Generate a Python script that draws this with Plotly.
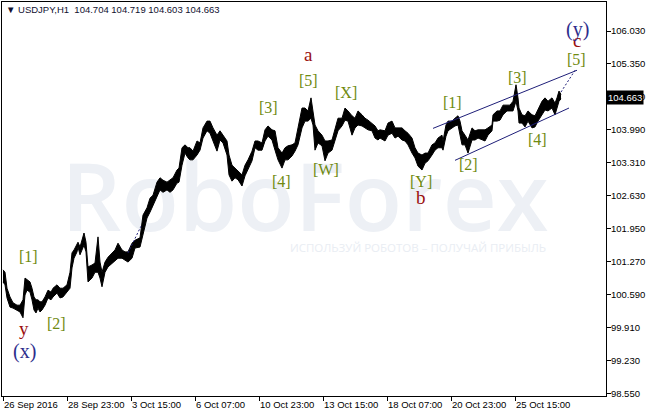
import plotly.graph_objects as go

# ---- data (bar index from first visible bar, prices) ----
bar_idx = [0,2,4,7,10,14,17,20,22,24,27,29,31,33,35,37,39,42,45,48,50,54,57,60,64,67,69,71,74,75,
           77,80,81,83,85,89,92,95,97,99,102,105,109,112,115,119,122,125,129,132,137,140,144,147,150,
           154,157,160,164,167,170,174,176,179,182,185,187,190,194,197,200,204,207,210,214,217,220,224,
           226,229,232,235,239,242,245,249,252,255,259,262,265,269,272,275,279,282,285,289,292,295,299,
           302,305,308,310,312,315,319,322,325,329,332,335,339,342,345,349,352,355,359,362,365,369,372,
           375,377,382,385,389,392,395,399,402,405,409,412,415,419,422,425,429,432,435,439,440,443,445,
           449,452,455,457,459,462,465,469,472,475,479,482,485,489,490,494,497,500,504,507,510,513,515,
           516,519,522,525,529,532,535,539,542,545,549,552,554,556,558]
high = [101.10,101.05,100.72,100.54,100.42,100.37,100.37,100.48,100.93,100.89,100.85,100.72,100.54,100.48,100.48,
        100.44,100.44,100.54,100.68,100.64,100.72,100.79,100.72,100.72,100.79,101.05,101.45,101.51,101.65,101.67,
        101.57,101.82,101.86,101.67,101.16,101.20,101.24,101.78,101.26,101.05,101.26,101.36,101.45,101.51,101.65,
        101.51,101.47,101.47,101.65,101.71,101.76,102.23,102.38,102.58,102.64,102.91,103.00,102.95,102.91,102.95,
        103.00,103.16,103.20,103.62,103.68,103.62,103.62,103.55,103.76,103.72,104.03,104.17,104.17,104.03,103.88,
        103.97,103.88,103.76,103.47,103.26,103.20,103.14,103.06,103.26,103.37,103.55,103.76,103.76,103.72,103.99,
        104.07,103.99,103.97,103.62,103.51,103.62,103.66,103.68,103.72,104.03,104.44,104.44,104.38,104.65,104.38,
        104.09,103.97,103.88,103.76,103.76,103.78,104.03,104.23,104.23,104.44,104.38,104.28,104.23,104.38,104.30,
        104.23,104.19,104.13,104.07,103.97,103.99,103.97,104.13,104.17,104.03,104.03,104.03,103.97,103.92,103.82,
        103.62,103.51,103.47,103.51,103.51,103.68,103.72,103.82,103.88,103.76,104.09,104.17,104.17,104.23,104.28,
        104.17,103.97,103.88,103.78,104.03,103.97,103.99,103.99,103.99,104.03,104.09,104.30,104.38,104.38,104.50,
        104.50,104.50,104.58,104.92,104.65,104.44,104.30,104.28,104.38,104.30,104.28,104.40,104.58,104.65,104.58,
        104.65,104.54,104.65,104.79,104.72]
low = [100.85,100.79,100.52,100.33,100.31,100.27,100.23,100.11,100.58,100.68,100.64,100.48,100.27,100.21,100.31,
       100.23,100.27,100.37,100.52,100.48,100.54,100.62,100.52,100.54,100.64,100.72,101.14,101.34,101.47,101.57,
       101.41,101.55,101.61,101.47,100.85,100.93,101.05,101.05,100.93,100.75,101.05,101.16,101.24,101.30,101.34,
       101.34,101.30,101.26,101.34,101.55,101.57,101.82,102.17,102.29,102.44,102.64,102.75,102.70,102.75,102.70,
       102.75,102.89,102.91,103.26,103.51,103.41,103.37,103.37,103.47,103.57,103.82,103.97,103.92,103.76,103.55,
       103.78,103.72,103.47,103.06,102.93,103.00,102.96,102.83,103.04,103.16,103.35,103.62,103.57,103.57,103.76,
       103.86,103.78,103.57,103.37,103.20,103.37,103.37,103.45,103.55,103.68,104.03,104.17,104.17,104.23,104.09,
       103.57,103.72,103.66,103.35,103.51,103.57,103.76,103.97,104.07,104.19,104.17,103.88,104.03,104.09,104.07,
       104.03,103.99,103.97,103.82,103.78,103.82,103.76,103.88,103.92,103.82,103.86,103.78,103.76,103.68,103.51,
       103.41,103.24,103.16,103.30,103.35,103.47,103.57,103.62,103.62,103.57,103.86,103.97,104.03,104.07,104.09,
       103.88,103.68,103.68,103.51,103.78,103.78,103.82,103.78,103.76,103.88,103.97,104.17,104.17,104.19,104.30,
       104.38,104.38,104.38,104.58,104.38,104.13,104.13,104.05,104.17,104.03,104.05,104.17,104.30,104.40,104.38,
       104.44,104.30,104.44,104.58,104.63]

price_ticks = [98.55, 99.23, 99.91, 100.59, 101.27, 101.95, 102.63, 103.31, 103.99, 104.67, 105.35, 106.03]
date_tick_idx = [0, 64, 128, 192, 256, 320, 384, 448, 512]
date_tick_text = ["26 Sep 2016", "28 Sep 23:00", "3 Oct 15:00", "6 Oct 07:00", "10 Oct 23:00",
                  "13 Oct 15:00", "18 Oct 07:00", "20 Oct 23:00", "25 Oct 15:00"]
header = "USDJPY,H1  104.704 104.719 104.603 104.663"
last_price = 104.663

# channel lines and projection lines (index, price endpoints)
upper_channel_x, upper_channel_y = [430, 574], [104.02, 105.22]
lower_channel_x, lower_channel_y = [452, 566], [103.36, 104.44]
proj1_x, proj1_y = [125, 138], [101.45, 102.00]
proj2_x, proj2_y = [558, 573], [104.77, 105.25]

# wave labels: (text, index, price, kind)
wave_labels = [
    ("[1]", 25, 101.385, "minor"), ("y", 21, 99.88, "inter"), ("(x)", 21, 99.42, "major"),
    ("[2]", 53, 100.00, "minor"), ("[3]", 265, 104.46, "minor"), ("a", 305, 105.555, "inter"),
    ("[5]", 305, 105.00, "minor"), ("[X]", 343, 104.77, "minor"), ("[4]", 278, 102.93, "minor"),
    ("[W]", 323, 103.18, "minor"), ("[Y]", 418, 102.93, "minor"), ("b", 418, 102.60, "inter"),
    ("[1]", 449, 104.56, "minor"), ("[2]", 465, 103.28, "minor"), ("[3]", 514, 105.08, "minor"),
    ("[4]", 534, 103.80, "minor"), ("[5]", 573, 105.45, "minor"), ("c", 574, 105.84, "inter"),
    ("(y)", 574, 106.07, "major"),
]

styles = {
    "minor": dict(color="#6f8a10", size=16),
    "inter": dict(color="#9a1010", size=19),
    "major": dict(color="#2d2d8c", size=20),
}
navy = "#1e1e78"

fig = go.Figure()

# watermark (drawn first so it stays below the price)
fig.add_trace(go.Scatter(x=[302], y=[102.38], mode="text", text=["RoboForex"],
                         textfont=dict(family="Open Sans", size=94, color="#edf0f5", weight=600),
                         hoverinfo="skip", showlegend=False))
fig.add_trace(go.Scatter(x=[415], y=[101.53], mode="text",
                         text=["ИСПОЛЬЗУЙ РОБОТОВ – ПОЛУЧАЙ ПРИБЫЛЬ"],
                         textfont=dict(family="Open Sans", size=11.5, color="#e9edf3"),
                         hoverinfo="skip", showlegend=False))

# price band
fig.add_trace(go.Scatter(x=bar_idx, y=low, mode="lines", line=dict(color="black", width=1),
                         showlegend=False, hoverinfo="skip"))
fig.add_trace(go.Scatter(x=bar_idx, y=high, mode="lines", line=dict(color="black", width=1),
                         fill="tonexty", fillcolor="black", showlegend=False, hoverinfo="skip"))

for xs, ys, dash in [(upper_channel_x, upper_channel_y, "solid"), (lower_channel_x, lower_channel_y, "solid"),
                     (proj1_x, proj1_y, "2px,2px"), (proj2_x, proj2_y, "2px,2px")]:
    fig.add_trace(go.Scatter(x=xs, y=ys, mode="lines", line=dict(color=navy, width=1, dash=dash),
                             showlegend=False, hoverinfo="skip"))

annotations = []
for txt, xi, yp, kind in wave_labels:
    st = styles[kind]
    annotations.append(dict(x=xi, y=yp, xref="x", yref="y", text=txt, showarrow=False,
                            font=dict(family="Liberation Serif", size=st["size"], color=st["color"])))

annotations.append(dict(x=0.004, y=0.999, xref="paper", yref="paper", xanchor="left", yanchor="top",
                        text="▼ " + header, showarrow=False,
                        font=dict(family="Liberation Sans", size=9.5, color="#101030")))
annotations.append(dict(x=1.0, y=last_price, xref="paper", yref="y", xanchor="left", yanchor="middle",
                        text=f"{last_price:.3f}", showarrow=False, bgcolor="black", borderpad=1,
                        font=dict(family="Liberation Sans", size=9.5, color="white")))

fig.update_layout(
    width=646, height=414,
    margin=dict(l=2, r=40, t=2, b=18, autoexpand=False),
    paper_bgcolor="white", plot_bgcolor="white",
    annotations=annotations,
    xaxis=dict(range=[-1, 603], showgrid=False, zeroline=False, showline=True, linecolor="black",
               linewidth=1, mirror=True, ticks="outside", ticklen=4, tickcolor="black", tickangle=0,
               automargin=False,
               tickvals=date_tick_idx, ticktext=date_tick_text, ticklabelposition="outside right",
               tickfont=dict(family="Liberation Sans", size=9.5, color="black")),
    yaxis=dict(range=[98.495, 106.629], side="right", showgrid=False, zeroline=False, showline=True,
               linecolor="black", linewidth=1, mirror=True, ticks="outside", ticklen=4, tickcolor="black",
               automargin=False, ticklabelstandoff=-2,
               tickvals=price_ticks, ticktext=[f"{v:.3f}" for v in price_ticks],
               tickfont=dict(family="Liberation Sans", size=9.5, color="black")),
)

fig.write_html("out.html", config={"displayModeBar": False},
               post_script="document.body.style.margin='0';document.body.style.overflow='hidden';")
